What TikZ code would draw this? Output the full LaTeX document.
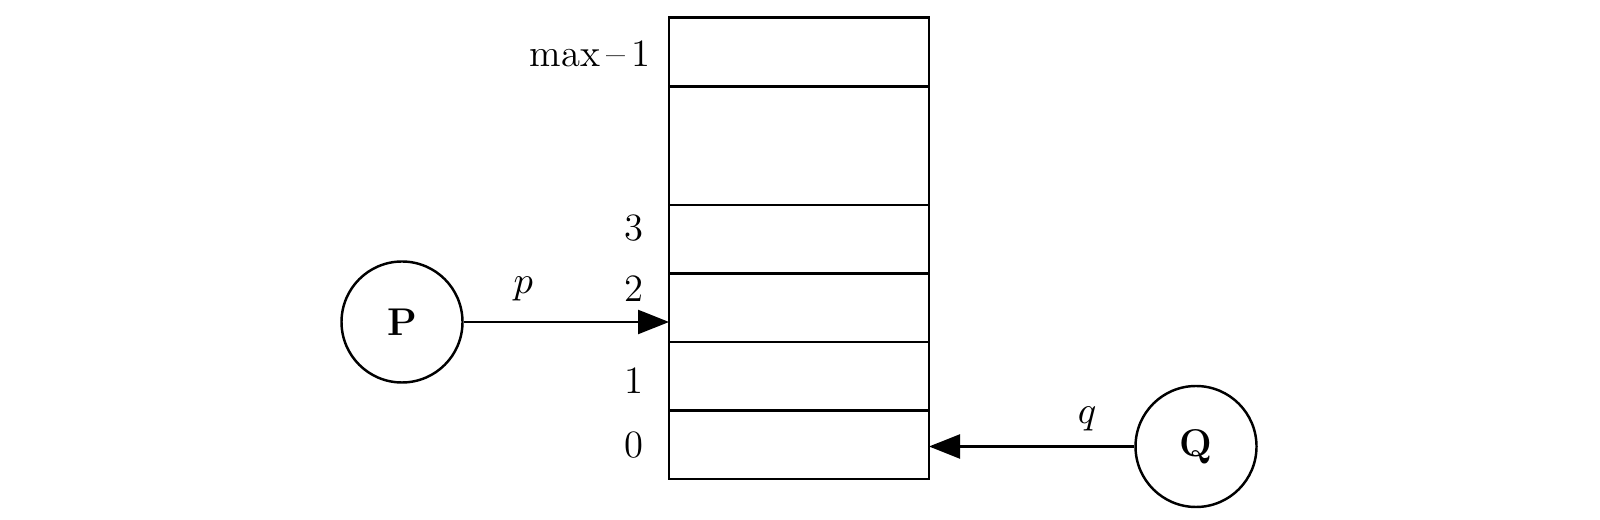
\documentclass[tikz,border=0pt]{standalone}
\usepackage{tikz}
\usetikzlibrary{positioning,arrows.meta}

\begin{document}
\begin{tikzpicture}[font=\fontsize{11}{13}\selectfont, line width=0.7pt,
          cell/.style={draw, minimum width=2.6cm, minimum height=0.685cm,
                       inner sep=0pt, outer sep=0pt},
          proc/.style={draw, circle, minimum size=1.21cm, inner sep=0pt,
                       font=\fontsize{11}{13}\selectfont\bfseries},
          idx/.style={inner sep=0pt},
          msg/.style={-{Triangle[length=3.1mm,width=2.4mm]}}]
  \useasboundingbox (0,0) rectangle (16,5.2);
  % the buffer, slot 0 at the bottom
  \node[cell] (c0) at (7.99,0.7525) {};
  \node[cell, above=0pt of c0] (c1) {};
  \node[cell, above=0pt of c1] (c2) {};
  \node[cell, above=0pt of c2] (c3) {};
  \node[cell, above=0pt of c3, minimum height=1.185cm] (gap) {};
  \node[cell, above=0pt of gap, minimum height=0.69cm] (top) {};
  % slot numbers
  \node[idx, left=0.24cm of c0.west] (l0) {0};
  \node[idx, left=0.24cm of c1.west, yshift=-0.04cm] (l1) {1};
  \node[idx, left=0.24cm of c2.west, yshift=0.19cm] (l2) {2};
  \node[idx, left=0.24cm of c3.west, yshift=0.115cm] (l3) {3};
  \node[idx, left=0.17cm of top.west, yshift=-0.02cm] (lmax) {max\,--\,1};
  % the two processes
  \node[proc] (P) at (4.02,1.98) {P};
  \node[proc] (Q) at (11.96,0.735) {Q};
  \draw[msg] (P) -- (P -| c2.west) node[pos=0.29, above=0.8mm] {$p$};
  \draw[msg] (Q) -- (Q -| c0.east) node[pos=0.23, above=0.3mm] {$q$};
\end{tikzpicture}
\end{document}
